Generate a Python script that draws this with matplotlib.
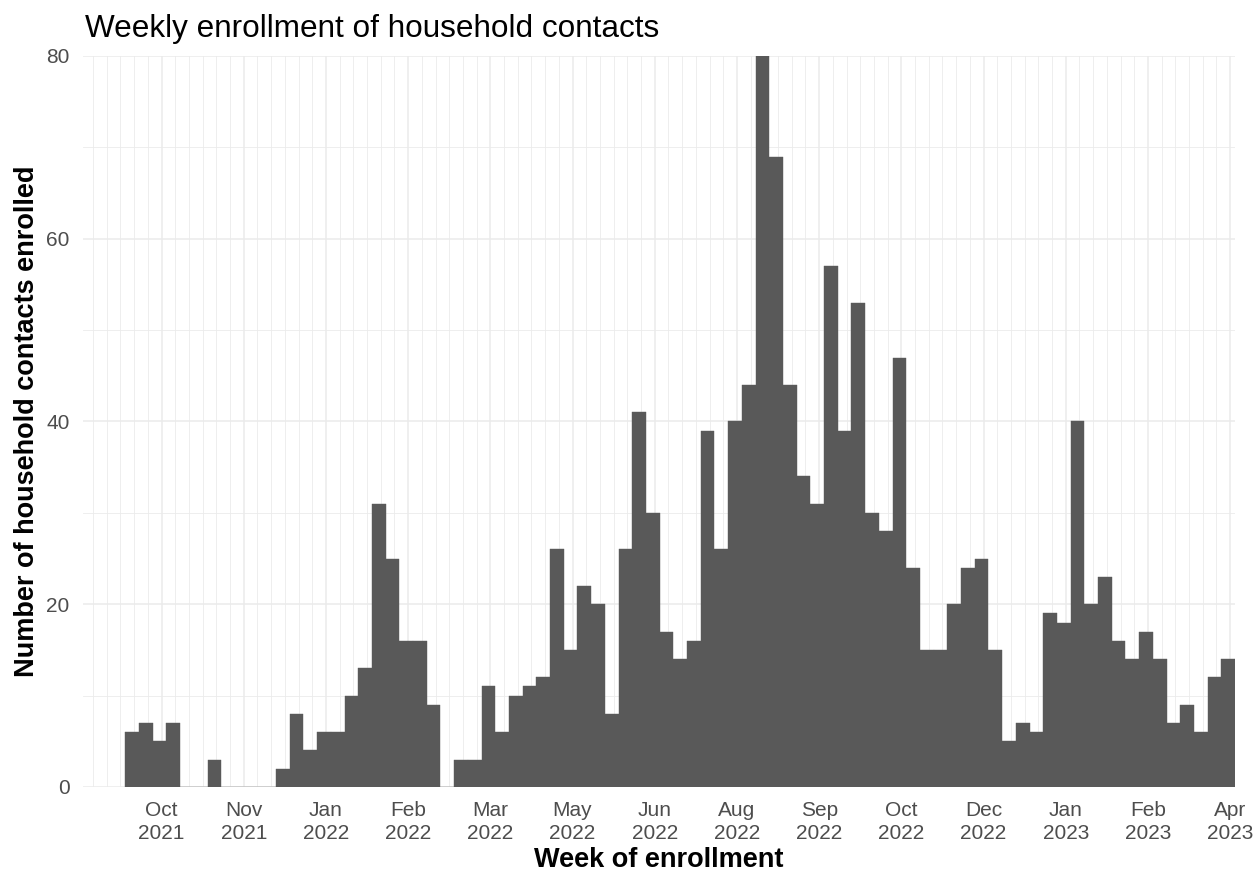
import matplotlib
matplotlib.use("Agg")
import matplotlib.pyplot as plt
import pandas as pd

# weekly counts, first week centred on 2021-09-26
first_week = "2021-09-26"
counts = [6, 7, 5, 7, 0, 0, 3, 0, 0, 0,
          0, 2, 8, 4, 6, 6, 10, 13, 31, 25,
          16, 16, 9, 0, 3, 3, 11, 6, 10, 11,
          12, 26, 15, 22, 20, 8, 26, 41, 30, 17,
          14, 16, 39, 26, 40, 44, 80, 69, 44, 34,
          31, 57, 39, 53, 30, 28, 47, 24, 15, 15,
          20, 24, 25, 15, 5, 7, 6, 19, 18, 40,
          20, 23, 16, 14, 17, 14, 7, 9, 6, 12,
          14]

tick_start = "2021-10-11"
tick_labels = ["Oct\n2021", "Nov\n2021", "Jan\n2022", "Feb\n2022", "Mar\n2022",
               "May\n2022", "Jun\n2022", "Aug\n2022", "Sep\n2022", "Oct\n2022",
               "Dec\n2022", "Jan\n2023", "Feb\n2023", "Apr\n2023"]

weeks = pd.date_range(first_week, periods=len(counts), freq="7D")
ticks = pd.date_range(tick_start, periods=len(tick_labels), freq="42D")
minor = pd.date_range("2021-09-06", "2023-04-10", freq="7D")

plt.rcParams["font.family"] = ["Liberation Sans", "DejaVu Sans"]

fig = plt.figure(figsize=(12.54, 8.75), dpi=100)
ax = fig.add_axes([0.0664, 0.1006, 0.9185, 0.8354])

grid_col = "#EBEBEB"
ax.bar(weeks, counts, width=7, color="#595959", edgecolor="#595959", linewidth=0.3, zorder=3)

ax.set_xticks(ticks)
ax.set_xticklabels(tick_labels)
ax.set_xticks(minor, minor=True)
ax.set_yticks([0, 20, 40, 60, 80])
ax.set_yticks([10, 30, 50, 70], minor=True)

ax.set_xlim(pd.Timestamp("2021-09-01"), pd.Timestamp("2023-04-12 12:00"))
ax.set_ylim(0, 80)

ax.grid(which="major", color=grid_col, linewidth=1.1, zorder=0)
ax.grid(which="minor", color=grid_col, linewidth=0.6, zorder=0)
ax.set_axisbelow(True)

for s in ax.spines.values():
    s.set_visible(False)

ax.tick_params(which="both", length=0)
ax.tick_params(axis="x", pad=10, labelsize=15, labelcolor="#4D4D4D")
ax.tick_params(axis="y", pad=10, labelsize=15, labelcolor="#4D4D4D")
for lab in ax.get_xticklabels():
    lab.set_linespacing(1.25)

ax.set_xlabel("Week of enrollment", fontsize=19.5, fontweight="bold", labelpad=3)
ax.set_ylabel("Number of household contacts enrolled", fontsize=19.5, fontweight="bold", labelpad=4)
ax.set_title("Weekly enrollment of household contacts", fontsize=22.7, loc="left", x=0.0015, pad=14)

fig.savefig("out.png", dpi=100)
